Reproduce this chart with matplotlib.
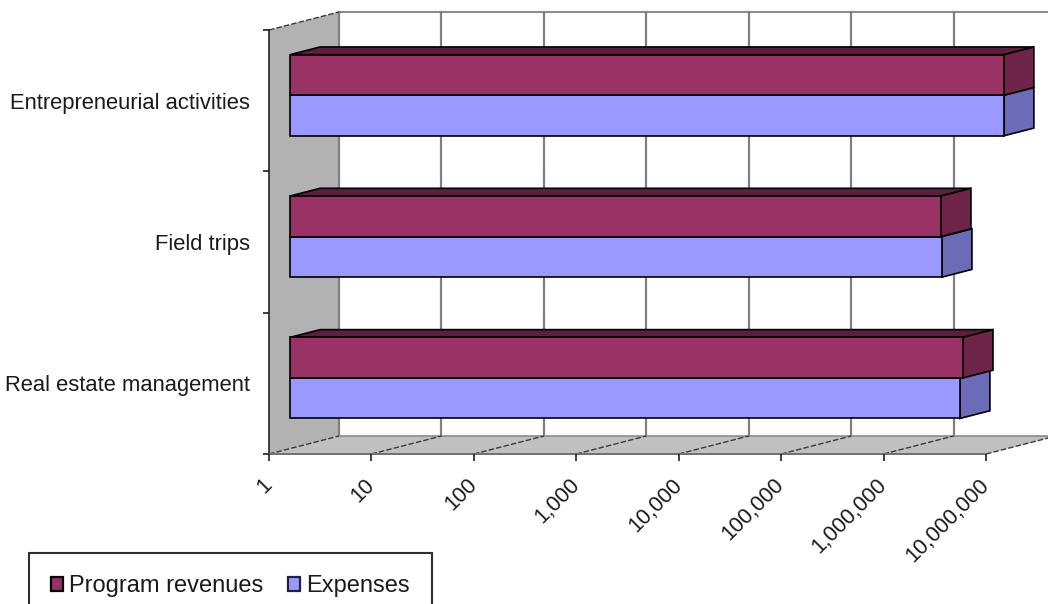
import numpy as np
import matplotlib
matplotlib.use("Agg")
import matplotlib.pyplot as plt
from matplotlib.patches import Polygon, Patch
from matplotlib.transforms import Affine2D, IdentityTransform

plt.rcParams['font.family'] = ['Liberation Sans', 'DejaVu Sans']

# Chart data (bottom category first)
categories = ["Real estate management", "Field trips", "Entrepreneurial activities"]
program_revenues = [3_710_000, 2_260_000, 9_300_000]
expenses = [3_460_000, 2_310_000, 9_300_000]
series_names = ["Program revenues", "Expenses"]
tick_values = [1, 10, 100, 1_000, 10_000, 100_000, 1_000_000, 10_000_000]
tick_labels = ["1", "10", "100", "1,000", "10,000", "100,000", "1,000,000", "10,000,000"]

# Face colours: front, top, side
rev_colors = ("#993366", "#5c1f3d", "#6e2549")
exp_colors = ("#9999ff", "#7a7acc", "#6b6bb8")

W, H, DPI = 1048, 604, 100
fig = plt.figure(figsize=(W / DPI, H / DPI), dpi=DPI)

# Front plane of the 3-D box in pixel geometry
left_px, right_px, top_px, bottom_px = 269, 986, 30, 454
ax = fig.add_axes([left_px / W, 1 - bottom_px / H,
                   (right_px - left_px) / W, (bottom_px - top_px) / H])
ax.set_xscale('log')
ax.set_xlim(1, 1e7)
ax.set_ylim(-0.5, 2.5)
ax.patch.set_alpha(0)

# Oblique depth vector (display pixels) for the full depth of the box
DX, DY = 70.0, 18.0
BAR_D0, BAR_D1 = 0.30, 0.73  # bar front / back as fraction of depth
bar_h = 0.287


def P(v, y, d):
    x, yy = ax.transData.transform((v, y))
    return (x + d * DX, yy + d * DY)


def poly(pts, fc, ec, lw, z):
    ax.add_patch(Polygon(pts, closed=True, facecolor=fc, edgecolor=ec,
                         linewidth=lw, transform=IdentityTransform(),
                         zorder=z, clip_on=False, joinstyle='miter'))


def line(p0, p1, color, lw, z, ls='-'):
    ax.add_line(plt.Line2D([p0[0], p1[0]], [p0[1], p1[1]], color=color,
                           lw=lw, ls=ls, transform=IdentityTransform(),
                           zorder=z, clip_on=False))


vmin, vmax = 1, 1e7
ylo, yhi = -0.5, 2.5

# Back wall
poly([P(vmin, ylo, 1), P(vmax, ylo, 1), P(vmax, yhi, 1), P(vmin, yhi, 1)],
     "white", "none", 0, 0.5)
line(P(vmin, yhi, 1), P(vmax, yhi, 1), "#8c8c8c", 1.5, 0.8)
for v in tick_values:
    line(P(v, ylo, 1), P(v, yhi, 1), "#808080", 1.6, 0.8)

# Floor
poly([P(vmin, ylo, 0), P(vmax, ylo, 0), P(vmax, ylo, 1), P(vmin, ylo, 1)],
     "#c0c0c0", "none", 0, 0.6)
line(P(vmin, ylo, 1), P(vmax, ylo, 1), "#8c8c8c", 1.2, 0.9)
for v in tick_values[1:]:
    line(P(v, ylo, 0), P(v, ylo, 1), "#3a3a3a", 1.0, 0.9, ls=(0, (4, 1.5)))

# Left wall
poly([P(vmin, ylo, 0), P(vmin, yhi, 0), P(vmin, yhi, 1), P(vmin, ylo, 1)],
     "#b2b2b2", "none", 0, 0.7)
line(P(vmin, yhi, 0), P(vmin, yhi, 1), "#3a3a3a", 1.0, 0.9, ls=(0, (4, 1.5)))
line(P(vmin, ylo, 0), P(vmin, ylo, 1), "#3a3a3a", 1.0, 0.9, ls=(0, (4, 1.5)))

# Bars: front faces via barh on a shifted plane, top/side faces via polygons
shift = ax.transData + Affine2D().translate(BAR_D0 * DX, BAR_D0 * DY)
ypos = np.arange(len(categories))
z = 2
for i in ypos:
    for vals, cols, y0 in ((expenses, exp_colors, i - bar_h),
                           (program_revenues, rev_colors, i)):
        v = vals[i]
        y1 = y0 + bar_h
        # top face
        poly([P(1, y1, BAR_D0), P(v, y1, BAR_D0), P(v, y1, BAR_D1), P(1, y1, BAR_D1)],
             cols[1], "black", 1.2, z)
        # side face
        poly([P(v, y0, BAR_D0), P(v, y1, BAR_D0), P(v, y1, BAR_D1), P(v, y0, BAR_D1)],
             cols[2], "black", 1.2, z + 0.1)
        # front face
        ax.barh(y0, v, height=bar_h, left=1, align='edge', color=cols[0],
                edgecolor="black", linewidth=1.2, transform=shift,
                zorder=z + 0.2, clip_on=False)
        z += 1

# Axes lines and ticks
for s in ("top", "right"):
    ax.spines[s].set_visible(False)
ax.spines["left"].set_color("#202020")
ax.spines["left"].set_linewidth(1.2)
ax.spines["bottom"].set_color("#707070")
ax.spines["bottom"].set_linewidth(1.4)
ax.spines["left"].set_zorder(1)
ax.spines["bottom"].set_zorder(1)

ax.set_xticks(tick_values)
ax.set_xticklabels(tick_labels)
ax.xaxis.set_minor_locator(matplotlib.ticker.NullLocator())
ax.tick_params(axis='x', which='major', direction='out', length=5, width=1.2,
               color="#202020", pad=15, labelsize=15.5, labelcolor="#1a1a1a")
for lab in ax.get_xticklabels():
    lab.set_rotation(45)
    lab.set_ha('right')
    lab.set_va('center')
    lab.set_rotation_mode('anchor')

ax.set_yticks(ypos)
ax.set_yticklabels(categories)
ax.set_yticks([-0.5, 0.5, 1.5, 2.5], minor=True)
ax.tick_params(axis='y', which='major', length=0, pad=13.5, labelsize=15.8,
               labelcolor="#1a1a1a")
ax.tick_params(axis='y', which='minor', direction='out', length=4, width=1.2,
               color="#202020")

# Legend (box runs past the bottom edge)
handles = [Patch(facecolor=rev_colors[0], edgecolor="black", linewidth=1.6),
           Patch(facecolor=exp_colors[0], edgecolor="#202040", linewidth=1.6)]
leg = fig.legend(handles, series_names, loc='upper left',
                 bbox_to_anchor=(29 / W, 1 - 553 / H), bbox_transform=fig.transFigure,
                 ncol=2, fontsize=17, frameon=True, fancybox=False,
                 framealpha=1, edgecolor="#303030", handlelength=0.5,
                 handleheight=0.5, handletextpad=0.25, columnspacing=1.05,
                 borderpad=0.95, borderaxespad=0)
leg.get_frame().set_linewidth(1.5)
for t in leg.get_texts():
    t.set_color("#1a1a1a")

fig.savefig("out.png", dpi=DPI)
